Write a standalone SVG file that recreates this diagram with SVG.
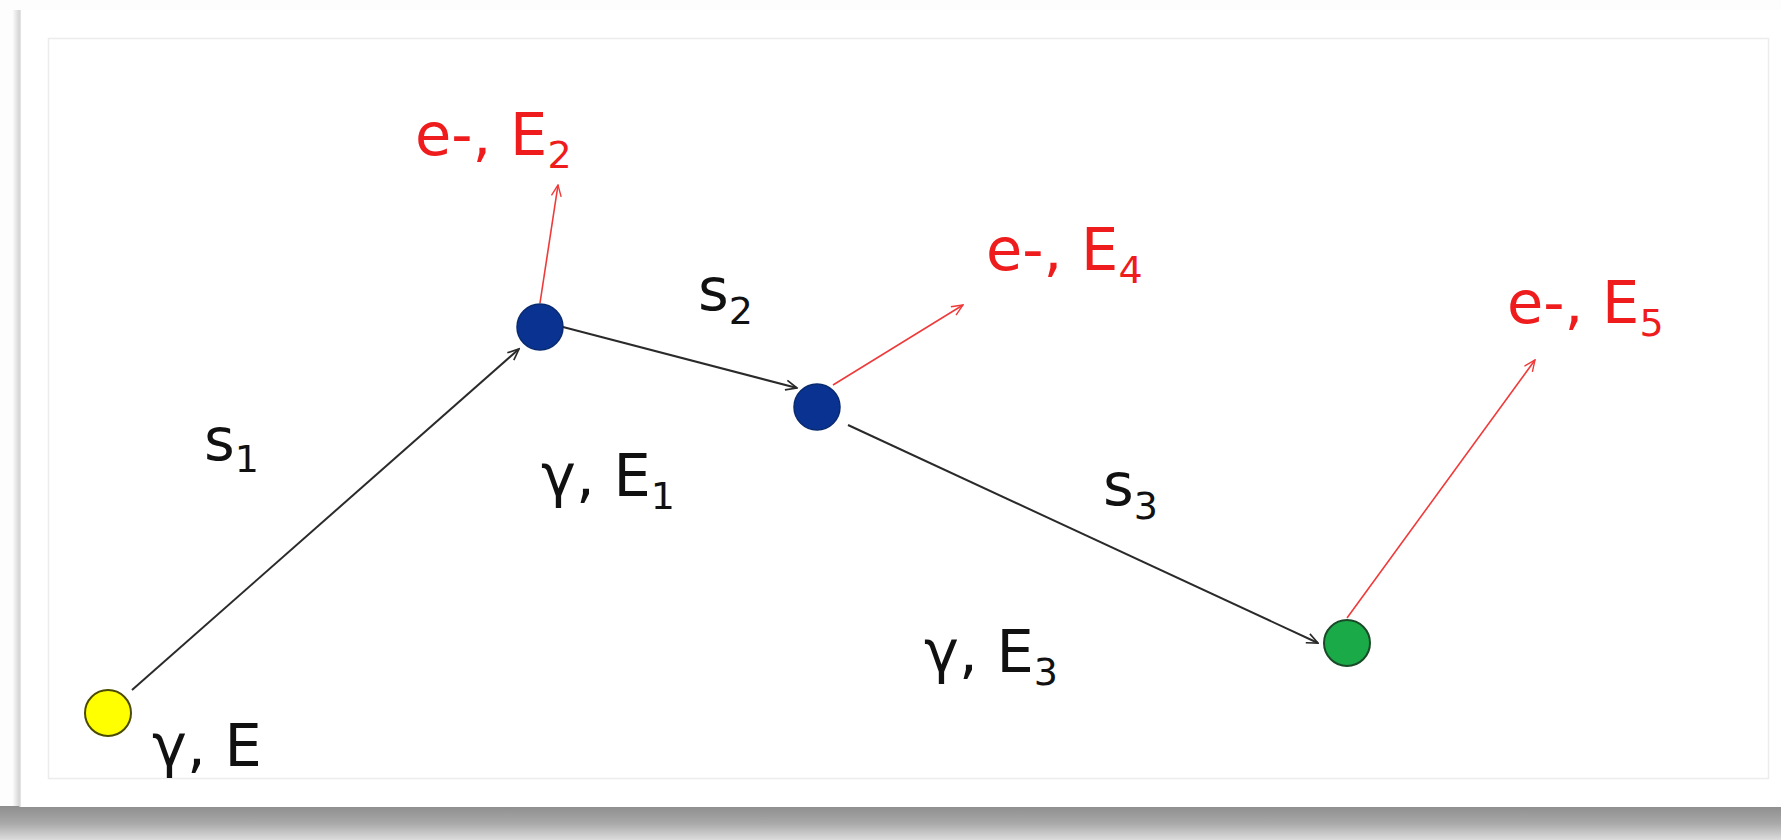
<svg xmlns="http://www.w3.org/2000/svg" width="1781" height="840" viewBox="0 0 1781 840">
<style>
.lbl{font-family:"DejaVu Sans","Verdana",sans-serif;font-size:59px;fill:#111}
.red{fill:#ee1c1c}
.sub{font-size:38px}
.blk{stroke:#2a2a2a;stroke-width:2;fill:none}
.rd{stroke:#ef3a3a;stroke-width:1.6;fill:none}
</style>
<defs>
<linearGradient id="shb" x1="0" y1="0" x2="0" y2="1">
<stop offset="0" stop-color="#8e8e8e"/>
<stop offset="0.5" stop-color="#a8a8a8"/>
<stop offset="1" stop-color="#dcdcdc"/>
</linearGradient>
<linearGradient id="shl" x1="0" y1="0" x2="1" y2="0">
<stop offset="0" stop-color="#ffffff"/>
<stop offset="1" stop-color="#d0d0d0"/>
</linearGradient>
<marker id="ab" viewBox="0 0 20 20" refX="18" refY="10" markerWidth="14" markerHeight="14" markerUnits="userSpaceOnUse" orient="auto">
<path d="M2,3 L18,10 L2,17" fill="none" stroke="#2a2a2a" stroke-width="2.4"/>
</marker>
<marker id="ar" viewBox="0 0 20 20" refX="18" refY="10" markerWidth="14" markerHeight="14" markerUnits="userSpaceOnUse" orient="auto">
<path d="M2,3 L18,10 L2,17" fill="none" stroke="#ef3a3a" stroke-width="2"/>
</marker>
</defs>
<rect x="0" y="0" width="1781" height="840" fill="#fdfdfd"/>
<rect x="12" y="10" width="8" height="800" fill="url(#shl)"/>
<rect x="0" y="806" width="1781" height="34" fill="url(#shb)"/>
<rect x="20" y="10" width="1761" height="797" fill="#ffffff"/>
<line x1="20" y1="10" x2="20" y2="807" stroke="#d8d8d8" stroke-width="1.5"/>
<rect x="48.5" y="38.5" width="1720" height="740" fill="#ffffff" stroke="#ececec" stroke-width="1.5"/>

<g id="connectors">
<line class="blk" x1="132" y1="690" x2="519" y2="349" marker-end="url(#ab)"/>
<line class="blk" x1="563" y1="327" x2="797" y2="388" marker-end="url(#ab)"/>
<line class="blk" x1="848" y1="425" x2="1318" y2="643" marker-end="url(#ab)"/>
<line class="rd" x1="540" y1="303" x2="558" y2="185" marker-end="url(#ar)"/>
<line class="rd" x1="833" y1="385" x2="963" y2="305" marker-end="url(#ar)"/>
<line class="rd" x1="1347" y1="618" x2="1535" y2="360" marker-end="url(#ar)"/>
</g>

<g id="node-start">
<circle cx="108" cy="713" r="23" fill="#ffff00" stroke="#4a4a00" stroke-width="2"/>
<text class="lbl" x="152" y="766">γ, E</text>
</g>
<g id="node-1">
<circle cx="540" cy="327" r="23" fill="#0a3290" stroke="#082a70" stroke-width="1.5"/>
<text class="lbl" x="541" y="496">γ, E<tspan class="sub" dy="13">1</tspan></text>
</g>
<g id="node-2">
<circle cx="817" cy="407" r="23" fill="#0a3290" stroke="#082a70" stroke-width="1.5"/>
<text class="lbl" x="924" y="672">γ, E<tspan class="sub" dy="13">3</tspan></text>
</g>
<g id="node-3">
<circle cx="1347" cy="643" r="23" fill="#1aaa48" stroke="#1a4a28" stroke-width="2"/>
</g>

<g id="labels">
<text class="lbl" x="204" y="460">s<tspan class="sub" dy="12">1</tspan></text>
<text class="lbl" x="698" y="310">s<tspan class="sub" dy="14">2</tspan></text>
<text class="lbl" x="1103" y="505">s<tspan class="sub" dy="14">3</tspan></text>
<text class="lbl red" x="415" y="155">e-, E<tspan class="sub" dy="13">2</tspan></text>
<text class="lbl red" x="986" y="270">e-, E<tspan class="sub" dy="13">4</tspan></text>
<text class="lbl red" x="1507" y="323">e-, E<tspan class="sub" dy="13">5</tspan></text>
</g>
</svg>
